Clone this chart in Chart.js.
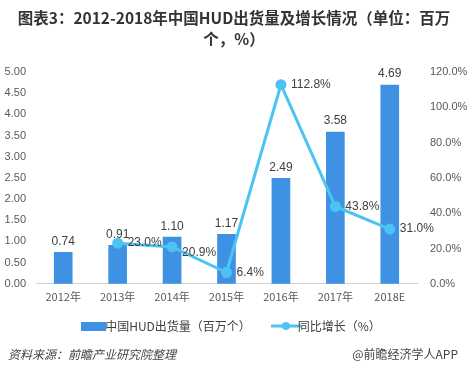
<!DOCTYPE html>
<html><head><meta charset="utf-8">
<script src="https://cdn.jsdelivr.net/npm/chart.js@4"></script>
<style>
html,body{margin:0;padding:0;background:#fff;}
#wrap{position:relative;width:468px;height:375px;overflow:hidden;font-family:"Noto Sans CJK SC","Noto Sans",sans-serif;}
#title{position:absolute;left:0;top:7px;width:468px;text-align:center;font-weight:bold;font-size:15.5px;line-height:21px;color:#333;}
#src{position:absolute;left:8px;top:345px;font-size:12px;color:#444;font-style:italic;}
#app{position:absolute;right:10px;top:345px;font-size:12px;color:#444;}
canvas{position:absolute;left:0;top:0;}
</style></head>
<body><div id="wrap">
<canvas id="c" width="468" height="375"></canvas>
<div id="title">图表3：2012-2018年中国HUD出货量及增长情况（单位：百万<br>个，%）</div>
<div id="src">资料来源：前瞻产业研究院整理</div>
<div id="app">@前瞻经济学人APP</div>
</div>
<script>
const categories = ["2012年","2013年","2014年","2015年","2016年","2017年","2018E"];
const shipments = [0.74,0.91,1.10,1.17,2.49,3.58,4.69];
const growth = [null,23.0,20.9,6.4,112.8,43.8,31.0];
const barName = "中国HUD出货量（百万个）";
const lineName = "同比增长（%）";
const barColor = "#3f92e3";
const lineColor = "#4cc3f2";

function mkBox(){const c=document.createElement('canvas');c.width=25;c.height=9;const g=c.getContext('2d');g.fillStyle=barColor;g.fillRect(0,0,25,9);return c;}
function mkLine(){const c=document.createElement('canvas');c.width=30;c.height=10;const g=c.getContext('2d');g.strokeStyle=lineColor;g.lineWidth=3;g.beginPath();g.moveTo(0,5);g.lineTo(30,5);g.stroke();g.fillStyle=lineColor;g.beginPath();g.arc(15,5,4,0,Math.PI*2);g.fill();return c;}
const legendIcons=[mkLine(),mkBox()];
const legendGap=['','\u2003\u2002'];

const labelPlugin={id:'lbl',afterDatasetsDraw(chart){
  const ctx=chart.ctx;ctx.save();ctx.font='12px "Liberation Sans", "Noto Sans", sans-serif';ctx.fillStyle='#404040';
  const m0=chart.getDatasetMeta(1);
  m0.data.forEach((el,i)=>{ctx.textAlign='center';ctx.textBaseline='bottom';ctx.fillText(shipments[i].toFixed(2),el.x,el.y-5);});
  const m1=chart.getDatasetMeta(0);
  const dy=[0,-1,6,0,0,0,0];
  m1.data.forEach((el,i)=>{if(growth[i]==null)return;ctx.textAlign='left';ctx.textBaseline='middle';ctx.fillText(growth[i].toFixed(1)+'%',el.x+10,el.y+dy[i]);});
  ctx.restore();
}};

new Chart(document.getElementById('c'),{
  data:{labels:categories,datasets:[
    {type:'line',label:lineName,data:growth,yAxisID:'y1',borderColor:lineColor,backgroundColor:lineColor,borderWidth:3,pointRadius:4,pointStyle:'circle',pointBackgroundColor:lineColor,pointBorderColor:lineColor,tension:0,spanGaps:false,order:0},
    {type:'bar',label:barName,data:shipments,yAxisID:'y',backgroundColor:barColor,barThickness:18,order:1}
  ]},
  options:{responsive:false,animation:false,
    layout:{padding:{top:72,left:0,right:0,bottom:33}},
    plugins:{title:{display:false},tooltip:{enabled:false},
      legend:{position:'bottom',labels:{usePointStyle:true,color:'#404040',font:{size:12,family:'"Noto Sans CJK SC"'},padding:11,
        generateLabels(chart){return [1,0].map(i=>({text:chart.data.datasets[i].label+legendGap[i],pointStyle:legendIcons[i],datasetIndex:i,fontColor:'#404040',lineWidth:0,strokeStyle:'transparent',fillStyle:'transparent'}));}}}},
    scales:{
      x:{grid:{display:false,drawTicks:false},border:{color:'#d0d0d0'},ticks:{color:'#595959',font:{size:11,family:'"Noto Sans CJK SC"'},padding:6}},
      y:{position:'left',min:0,max:5,afterFit:s=>{s.width=36;},grid:{display:false,drawTicks:false},border:{display:false},ticks:{stepSize:0.5,color:'#595959',font:{size:11,family:'"Liberation Sans"'},padding:10,callback:v=>v.toFixed(2)}},
      y1:{position:'right',min:0,max:120,afterFit:s=>{s.width=51;},grid:{display:false,drawTicks:false},border:{display:false},ticks:{stepSize:20,color:'#595959',font:{size:11,family:'"Liberation Sans"'},padding:13,callback:v=>v.toFixed(1)+'%'}}
    }
  },
  plugins:[labelPlugin]
});
</script>
</body></html>
